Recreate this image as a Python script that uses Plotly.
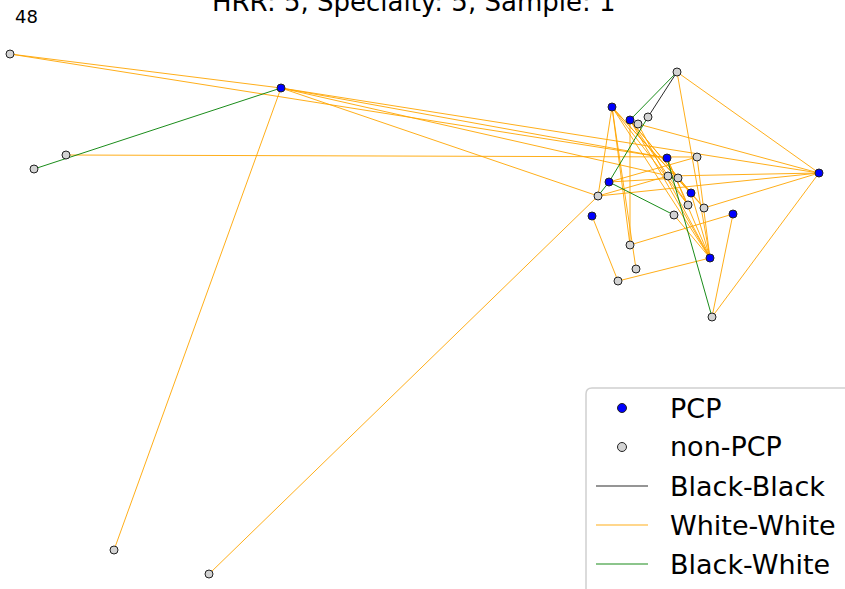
import plotly.graph_objects as go

W, H = 845, 589

# ---- node data (layout positions) ----
node_ids = ['G1', 'G2', 'G3', 'G4', 'G5', 'G6', 'G7', 'G8', 'G9', 'G10',
            'G11', 'G12', 'G13', 'G14', 'G15', 'G16', 'G17', 'G18', 'G19',
            'B1', 'B2', 'B3', 'B4', 'B5', 'B6', 'B7', 'B8', 'B9', 'B10']
node_x = [10, 34, 66, 114, 209, 677, 648, 638, 697, 668,
          678, 598, 688, 674, 704, 630, 636, 618, 712,
          281, 612, 630, 667, 609, 592, 691, 733, 710, 819]
node_y = [54, 169, 155, 550, 574, 72, 117, 124, 157, 176,
          178, 196, 205, 215, 208, 245, 269, 281, 317,
          88, 107, 120, 158, 182, 216, 193, 214, 258, 173]
node_pcp = [False] * 19 + [True] * 10

# ---- edge data ----
edges_black_black = [('G6', 'G7')]
edges_black_white = [('G6', 'B3'), ('G7', 'B5'), ('B5', 'G14'), ('B5', 'G12'),
                     ('B4', 'G19'), ('G2', 'B1')]
edges_white_white = [
    ('G1', 'B1'), ('G1', 'B4'), ('G3', 'G9'), ('B1', 'G4'), ('B1', 'B10'),
    ('B1', 'B4'), ('B1', 'G11'), ('B1', 'G12'), ('G5', 'G12'),
    ('G6', 'B10'), ('G6', 'B9'), ('B10', 'G19'), ('G8', 'B10'), ('G10', 'B10'),
    ('G12', 'B10'), ('G15', 'B10'), ('B8', 'G19'), ('B8', 'G16'), ('B9', 'G18'),
    ('B6', 'G18'), ('G9', 'B9'),
    ('B2', 'G16'), ('B2', 'G17'), ('B2', 'B9'), ('B2', 'G13'), ('B2', 'B7'),
    ('B2', 'G12'), ('B2', 'G15'),
    ('B3', 'G16'), ('B3', 'B9'), ('B3', 'G15'), ('B3', 'G13'), ('B3', 'B7'),
    ('B5', 'G9'), ('B5', 'G11'), ('B4', 'G13'), ('B4', 'B9'), ('B7', 'B9'),
    ('G14', 'B9'), ('G8', 'B9'), ('G12', 'G10'),
]

title_text = 'HRR: 5, Specialty: 5, Sample: 1'
corner_text = '48'

# legend entries
legend_labels = ['PCP', 'non-PCP', 'Black-Black', 'White-White', 'Black-White']
legend_kinds = ['marker', 'marker', 'line', 'line', 'line']
NODE_COLORS = {True: '#0000ff', False: '#d3d3d3'}
EDGE_COLORS = {'Black-Black': 'rgba(20,20,20,0.9)',
               'White-White': 'rgba(255,165,0,0.9)',
               'Black-White': 'rgba(0,128,0,0.9)'}
legend_colors = [NODE_COLORS[True], NODE_COLORS[False],
                 EDGE_COLORS['Black-Black'], EDGE_COLORS['White-White'],
                 EDGE_COLORS['Black-White']]

pos = {n: (x, y) for n, x, y in zip(node_ids, node_x, node_y)}


def edge_xy(edges):
    xs, ys = [], []
    for a, b in edges:
        xs += [pos[a][0], pos[b][0], None]
        ys += [pos[a][1], pos[b][1], None]
    return xs, ys


fig = go.Figure()
FONT = 'DejaVu Sans'

for name, edges in [('White-White', edges_white_white),
                    ('Black-White', edges_black_white),
                    ('Black-Black', edges_black_black)]:
    ex, ey = edge_xy(edges)
    fig.add_trace(go.Scatter(x=ex, y=ey, mode='lines', name=name,
                             line=dict(color=EDGE_COLORS[name], width=1),
                             hoverinfo='skip', showlegend=False))

for name, flag in [('non-PCP', False), ('PCP', True)]:
    xs = [x for x, p in zip(node_x, node_pcp) if p == flag]
    ys = [y for y, p in zip(node_y, node_pcp) if p == flag]
    fig.add_trace(go.Scatter(x=xs, y=ys, mode='markers', name=name,
                             marker=dict(color=NODE_COLORS[flag], size=8,
                                         line=dict(color='#222222', width=1)),
                             showlegend=False))


def px(x):
    return x / W


def py(y):
    return 1 - y / H


# legend frame with rounded corner
L, T, R = 586, 388, 6
frame = (f'M {px(L)},{py(H + 10)} L {px(L)},{py(T + R)} '
         f'Q {px(L)},{py(T)} {px(L + R)},{py(T)} L {px(W + 10)},{py(T)} '
         f'L {px(W + 10)},{py(H + 10)} Z')
fig.add_shape(type='path', path=frame, xref='paper', yref='paper',
              line=dict(color='#d0d0d0', width=1.5),
              fillcolor='rgba(255,255,255,0.85)', layer='above')

ROW0, DY, SYM_X, TXT_X = 408, 39, 622, 668
for i, (lab, kind, col) in enumerate(zip(legend_labels, legend_kinds, legend_colors)):
    yc = ROW0 + i * DY
    if kind == 'marker':
        fig.add_shape(type='circle', xref='paper', yref='paper',
                      x0=px(SYM_X - 4.5), x1=px(SYM_X + 4.5),
                      y0=py(yc + 4.5), y1=py(yc - 4.5),
                      fillcolor=col, line=dict(color='#222222', width=1),
                      layer='above')
    else:
        fig.add_shape(type='line', xref='paper', yref='paper',
                      x0=px(SYM_X - 26), x1=px(SYM_X + 26),
                      y0=py(yc), y1=py(yc),
                      line=dict(color=col, width=1), layer='above')
    fig.add_annotation(text=lab, xref='paper', yref='paper',
                       x=px(TXT_X), y=py(yc), xanchor='left', yanchor='middle',
                       showarrow=False,
                       font=dict(family=FONT, size=27, color='#000'))

fig.add_annotation(text=title_text, xref='paper', yref='paper',
                   x=0.49, y=py(2), xanchor='center', yanchor='middle',
                   showarrow=False, font=dict(family=FONT, size=26, color='#000'))
fig.add_annotation(text=corner_text, xref='paper', yref='paper',
                   x=px(26), y=py(16), xanchor='center', yanchor='middle',
                   showarrow=False, font=dict(family=FONT, size=18, color='#000'))

fig.update_layout(
    width=W, height=H,
    margin=dict(l=0, r=0, t=0, b=0),
    paper_bgcolor='white', plot_bgcolor='white',
    xaxis=dict(range=[0, W], visible=False, fixedrange=True),
    yaxis=dict(range=[H, 0], visible=False, fixedrange=True),
    showlegend=False,
    font=dict(family=FONT),
)

fig.write_html('out.html',
               config={'displayModeBar': False},
               post_script="document.body.style.margin='0';"
                           "document.body.style.overflow='hidden';")
